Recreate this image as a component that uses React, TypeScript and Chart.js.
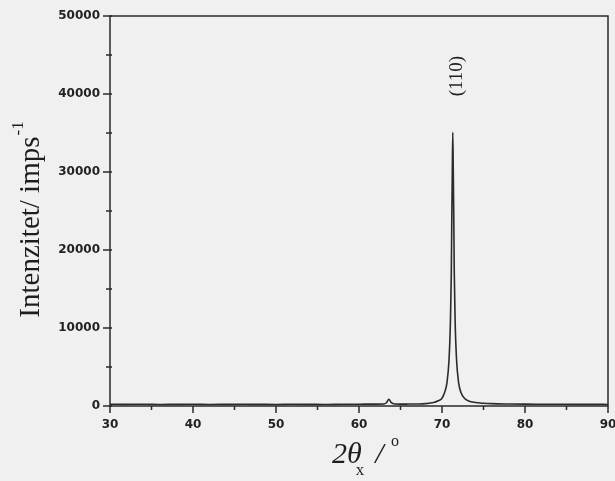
import React, { useEffect, useRef } from "react";
import { Chart, registerables } from "chart.js";

Chart.register(...registerables);

const twoTheta: number[] = [
  30, 32, 34, 36, 38, 40, 42, 44, 46, 48, 50, 52, 54, 56, 58, 60, 62, 63.0, 63.3, 63.6, 63.9, 64.3, 65, 66, 67, 68,
  69.0, 69.6, 70.0, 70.3, 70.6, 70.85, 71.02, 71.12, 71.18, 71.24, 71.3, 71.36, 71.42, 71.48, 71.58, 71.75, 72.0,
  72.3, 72.7, 73.2, 74.0, 75, 76, 78, 80, 82, 84, 86, 88, 90,
];
const intensity: number[] = [
  220, 210, 220, 200, 210, 220, 200, 210, 220, 210, 200, 220, 210, 200, 220, 230, 240, 260, 420, 850, 420, 260, 240,
  250, 260, 300, 450, 700, 1000, 1700, 3000, 6000, 11000, 17000, 24000, 30000, 35100, 30000, 24000, 17000, 11000,
  6000, 3000, 1700, 1000, 650, 450, 350, 300, 260, 240, 230, 220, 210, 210, 200,
];
const xTicks: number[] = [30, 40, 50, 60, 70, 80, 90];
const yTicks: number[] = [0, 10000, 20000, 30000, 40000, 50000];
const peakLabel = "(110)";
const peakPos = 71.3;
const peakLabelValue = 42300;

const W = 615;
const H = 481;
const AREA = { left: 110, right: 608, top: 16, bottom: 406 };

export default function App() {
  const ref = useRef<HTMLCanvasElement | null>(null);

  useEffect(() => {
    document.body.style.margin = "0";
    document.body.style.background = "#f0f0f0";
    const canvas = ref.current;
    if (!canvas) return;

    const decor = {
      id: "decor",
      beforeDraw(chart: any) {
        const ctx = chart.ctx;
        ctx.save();
        ctx.fillStyle = "#f0f0f0";
        ctx.fillRect(0, 0, chart.width, chart.height);
        ctx.restore();
      },
      afterDraw(chart: any) {
        const ctx = chart.ctx;
        const xs = chart.scales.x;
        const ys = chart.scales.y;
        const { left, right, top, bottom } = chart.chartArea;
        ctx.save();
        ctx.strokeStyle = "#2a2a2a";
        ctx.lineWidth = 1.5;
        ctx.strokeRect(left, top, right - left, bottom - top);
        // x ticks
        for (let v = 30; v <= 90; v += 5) {
          const px = xs.getPixelForValue(v);
          const len = v % 10 === 0 ? 7 : 4;
          ctx.beginPath();
          ctx.moveTo(px, bottom);
          ctx.lineTo(px, bottom + len);
          ctx.stroke();
        }
        // y ticks
        for (let v = 0; v <= 50000; v += 5000) {
          const py = ys.getPixelForValue(v);
          const len = v % 10000 === 0 ? 7 : 4;
          ctx.beginPath();
          ctx.moveTo(left - len, py);
          ctx.lineTo(left + 2, py);
          ctx.stroke();
        }
        ctx.fillStyle = "#1e1e1e";
        // y title
        ctx.save();
        ctx.translate(31, 220);
        ctx.rotate(-Math.PI / 2);
        const main = "Intenzitet/ imps";
        const sup = "-1";
        ctx.font = "29px 'Liberation Serif'";
        const wMain = ctx.measureText(main).width;
        ctx.font = "17px 'Liberation Serif'";
        const wSup = ctx.measureText(sup).width;
        const startX = -(wMain + wSup) / 2;
        ctx.textBaseline = "middle";
        ctx.textAlign = "left";
        ctx.font = "29px 'Liberation Serif'";
        ctx.fillText(main, startX, 0);
        ctx.font = "17px 'Liberation Serif'";
        ctx.fillText(sup, startX + wMain + 1, -12);
        ctx.restore();
        // x title
        ctx.save();
        ctx.textBaseline = "alphabetic";
        ctx.textAlign = "left";
        let x = 332;
        const base = 463;
        ctx.font = "italic 30px 'Liberation Serif'";
        ctx.fillText("2θ", x, base);
        x += ctx.measureText("2θ").width;
        ctx.font = "17px 'Liberation Serif'";
        ctx.fillText("x", x - 6, base + 12);
        x += 6;
        ctx.font = "italic 30px 'Liberation Serif'";
        ctx.fillText(" /", x, base);
        x += ctx.measureText(" / ").width;
        ctx.font = "16px 'Liberation Serif'";
        ctx.fillText("o", x, base - 17);
        ctx.restore();
        // peak label
        ctx.save();
        ctx.translate(xs.getPixelForValue(peakPos) + 4, ys.getPixelForValue(peakLabelValue));
        ctx.rotate(-Math.PI / 2);
        ctx.font = "19px 'Liberation Serif'";
        ctx.textAlign = "center";
        ctx.textBaseline = "middle";
        ctx.fillText(peakLabel, 0, 0);
        ctx.restore();
        ctx.restore();
      },
    };

    const chart = new Chart(canvas, {
      type: "line",
      data: {
        datasets: [
          {
            data: twoTheta.map((t, i) => ({ x: t, y: intensity[i] })),
            borderColor: "#2b2b2b",
            borderWidth: 1.6,
            pointRadius: 0,
            fill: false,
            cubicInterpolationMode: "monotone",
          },
        ],
      },
      options: {
        animation: false,
        responsive: false,
        maintainAspectRatio: false,
        layout: { padding: { left: 0, top: AREA.top, right: W - AREA.right, bottom: 0 } },
        plugins: { legend: { display: false }, tooltip: { enabled: false } },
        scales: {
          x: {
            type: "linear",
            min: 30,
            max: 90,
            afterBuildTicks(scale: any) {
              scale.ticks = xTicks.map((v) => ({ value: v }));
            },
            afterFit(scale: any) {
              scale.height = H - AREA.bottom;
              scale.paddingLeft = 0;
              scale.paddingRight = 0;
            },
            grid: { display: false, drawTicks: false },
            border: { display: false },
            ticks: {
              padding: 12,
              color: "#222",
              font: { family: "'DejaVu Sans'", size: 12, weight: "bold" },
              maxRotation: 0,
              callback: (v: any) => String(v),
            },
          },
          y: {
            type: "linear",
            min: 0,
            max: 50000,
            afterBuildTicks(scale: any) {
              scale.ticks = yTicks.map((v) => ({ value: v }));
            },
            afterFit(scale: any) {
              scale.width = AREA.left;
              scale.paddingTop = 0;
              scale.paddingBottom = 0;
            },
            grid: { display: false, drawTicks: false },
            border: { display: false },
            ticks: {
              padding: 10,
              color: "#222",
              font: { family: "'DejaVu Sans'", size: 12, weight: "bold" },
              callback: (v: any) => String(v),
            },
          },
        },
      },
      plugins: [decor],
    } as any);

    return () => chart.destroy();
  }, []);

  return <canvas ref={ref} width={W} height={H} style={{ display: "block", width: W, height: H }} />;
}
